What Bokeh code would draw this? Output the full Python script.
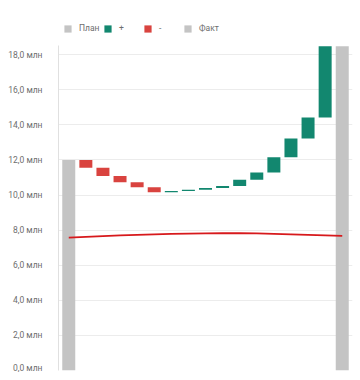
import numpy as np
from bokeh.plotting import figure
from bokeh.layouts import column
from bokeh.models import (ColumnDataSource, FactorRange, Range1d, FixedTicker,
                          Legend, LegendItem)
from bokeh.embed import file_html
from bokeh.resources import INLINE

# ---- data ----
categories = ["План"] + [f"Шаг {i}" for i in range(1, 16)] + ["Факт"]
plan_value = 12.0
delta_values = [-0.45, -0.47, -0.35, -0.29, -0.28, 0.07, 0.07, 0.10, 0.12,
                0.35, 0.41, 0.87, 1.07, 1.20, 4.06]
fact_value = 18.48
line_values = [7.57, 7.62, 7.66, 7.70, 7.73, 7.76, 7.78, 7.80, 7.81, 7.82,
               7.82, 7.81, 7.79, 7.76, 7.73, 7.70, 7.67]
y_ticks = [0, 2, 4, 6, 8, 10, 12, 14, 16, 18]
y_tick_labels = ["0,0 млн", "2,0 млн", "4,0 млн", "6,0 млн", "8,0 млн",
                 "10,0 млн", "12,0 млн", "14,0 млн", "16,0 млн", "18,0 млн"]
legend_labels = ["План", "+", "-", "Факт"]

GREY = "#c4c4c4"
GREEN = "#12876f"
RED = "#d9433f"
LINE_RED = "#d7191c"
TEXT = "#6e6e6e"
FONT = "Roboto"

# ---- derived waterfall geometry ----
ends = plan_value + np.cumsum(delta_values)
starts = np.concatenate([[plan_value], ends[:-1]])
delta_cats = categories[1:-1]
pos = [d >= 0 for d in delta_values]

src_pos = ColumnDataSource(dict(
    x=[c for c, p_ in zip(delta_cats, pos) if p_],
    bottom=[s for s, p_ in zip(starts, pos) if p_],
    top=[e for e, p_ in zip(ends, pos) if p_]))
src_neg = ColumnDataSource(dict(
    x=[c for c, p_ in zip(delta_cats, pos) if not p_],
    bottom=[e for e, p_ in zip(ends, pos) if not p_],
    top=[s for s, p_ in zip(starts, pos) if not p_]))
src_plan = ColumnDataSource(dict(x=[categories[0]], top=[plan_value]))
src_fact = ColumnDataSource(dict(x=[categories[-1]], top=[fact_value]))
src_line = ColumnDataSource(dict(x=categories, y=line_values))

p = figure(frame_width=294, frame_height=325,
           x_range=FactorRange(*categories, range_padding=0.1,
                               range_padding_units="absolute"),
           y_range=Range1d(0, 18.52),
           x_axis_location=None,
           output_backend="svg", toolbar_location=None,
           min_border_left=58, min_border_right=6,
           min_border_top=0, min_border_bottom=2)
p.outline_line_color = None
p.background_fill_color = "white"
p.border_fill_color = "white"

W = 0.76
p.vbar(x="x", top="top", bottom=0, width=W, source=src_plan,
       fill_color=GREY, line_color=None)
p.vbar(x="x", top="top", bottom="bottom", width=W, source=src_pos,
       fill_color=GREEN, line_color=None)
p.vbar(x="x", top="top", bottom="bottom", width=W, source=src_neg,
       fill_color=RED, line_color=None)
p.vbar(x="x", top="top", bottom=0, width=W, source=src_fact,
       fill_color=GREY, line_color=None)
p.line(x="x", y="y", source=src_line, line_color=LINE_RED, line_width=1.8)

# axes / grid
p.xgrid.grid_line_color = None
p.ygrid.grid_line_color = "#ececec"
p.ygrid.grid_line_width = 1
p.yaxis.ticker = FixedTicker(ticks=y_ticks)
p.yaxis.major_label_overrides = {t: l for t, l in zip(y_ticks, y_tick_labels)}
p.yaxis.axis_line_color = "#e0e0e0"
p.yaxis.major_tick_line_color = None
p.yaxis.minor_tick_line_color = None
p.yaxis.major_label_standoff = 10
p.yaxis.major_label_text_font = FONT
p.yaxis.major_label_text_font_size = "8.5px"
p.yaxis.major_label_text_color = TEXT

# ---- legend strip (separate figure above the chart) ----
lg = figure(width=358, height=45, x_range=Range1d(0, 1), y_range=Range1d(0, 1),
            x_axis_location=None, y_axis_location=None,
            output_backend="svg", toolbar_location=None,
            min_border=0)
lg.outline_line_color = None
lg.xgrid.grid_line_color = None
lg.ygrid.grid_line_color = None
legend_colors = [GREY, GREEN, RED, GREY]
items = []
for lab, col in zip(legend_labels, legend_colors):
    # zero-height placeholder bar: only its legend swatch is visible
    r = lg.vbar(x="x", top="top", bottom="top", width=0.01,
                source=ColumnDataSource(dict(x=[0], top=[0])),
                fill_color=col, line_color=None)
    items.append(LegendItem(label=lab, renderers=[r]))
legend = Legend(items=items, orientation="horizontal", location=(5, 12),
                glyph_width=9, glyph_height=9, label_standoff=7,
                label_width=24, label_height=9, spacing=0,
                padding=0, margin=0,
                border_line_color=None, background_fill_alpha=0,
                label_text_font=FONT, label_text_font_size="8.5px",
                label_text_color=TEXT)
lg.add_layout(legend, "center")

# ---- thin grey strip at the bottom edge ----
band = figure(width=358, height=6, x_range=Range1d(0, 1), y_range=Range1d(0, 1),
              x_axis_location=None, y_axis_location=None,
              output_backend="svg", toolbar_location=None, min_border=0)
band.outline_line_color = None
band.xgrid.grid_line_color = None
band.ygrid.grid_line_color = None
band.background_fill_color = "#f1f1f1"
band.border_fill_color = "#f1f1f1"

layout = column(lg, p, band, spacing=0)
open("out.html", "w").write(file_html(layout, INLINE))
